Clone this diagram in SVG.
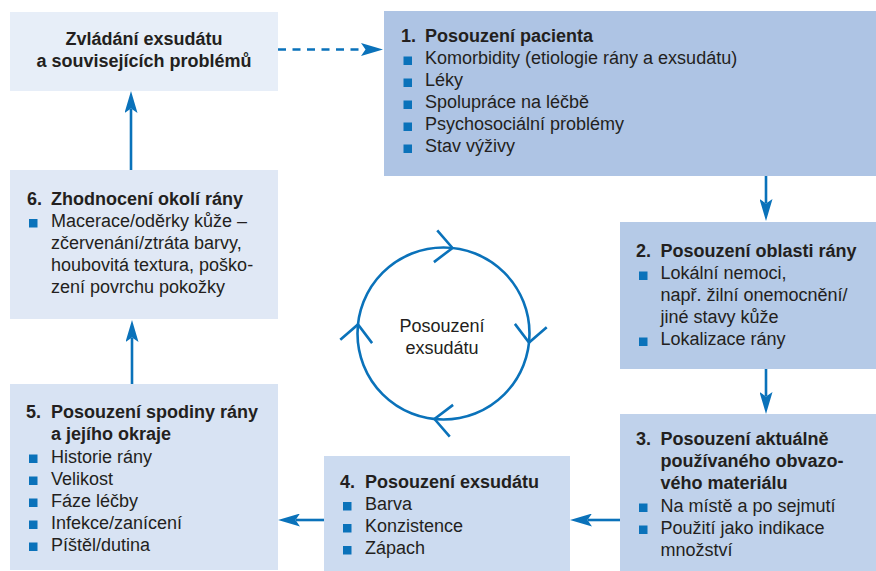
<svg xmlns="http://www.w3.org/2000/svg" width="876" height="571" viewBox="0 0 876 571">
<style>
  text { font-family: "Liberation Sans", Arial, Helvetica, sans-serif; font-size: 18px; fill: #231f20; }
  .b { font-weight: bold; }
  .c { text-anchor: middle; }
  .blt { fill: #0a72ba; }
  .conn { stroke: #0a72ba; stroke-width: 2.6; fill: none; }
  .dash { stroke-dasharray: 8 6.5; }
  .cyc { stroke: #0a72ba; stroke-width: 2.6; fill: none; stroke-linejoin: miter; }
</style>
<defs>
  <marker id="ah" markerUnits="userSpaceOnUse" viewBox="0 0 22 13" refX="4" refY="6.5" markerWidth="22" markerHeight="13" orient="auto">
    <path d="M0,0 L22,6.5 L0,13 L4.5,6.5 Z" fill="#0a72ba" stroke="none"/>
  </marker>
  <rect id="sq" width="8.5" height="8.5"/>
</defs>
<rect width="876" height="571" fill="#ffffff"/>

<g id="connectors">
  <line class="conn dash" x1="278" y1="49.5" x2="365" y2="49.5" marker-end="url(#ah)"/>
  <line class="conn" x1="766" y1="176" x2="766" y2="203" marker-end="url(#ah)"/>
  <line class="conn" x1="766" y1="369" x2="766" y2="396" marker-end="url(#ah)"/>
  <line class="conn" x1="620" y1="520" x2="588" y2="520" marker-end="url(#ah)"/>
  <line class="conn" x1="324" y1="520" x2="296" y2="520" marker-end="url(#ah)"/>
  <line class="conn" x1="132" y1="384" x2="132" y2="338" marker-end="url(#ah)"/>
  <line class="conn" x1="131" y1="170" x2="131" y2="109" marker-end="url(#ah)"/>
</g>

<g id="node-manage">
  <rect x="10" y="12" width="268" height="79" fill="#e7eef8"/>
  <text class="b c" x="144" y="45">Zvládání exsudátu</text>
  <text class="b c" x="144" y="67">a souvisejících problémů</text>
</g>

<g id="node-1">
  <rect x="384" y="11" width="492" height="165" fill="#aec4e4"/>
  <text class="b" x="401" y="42">1.<tspan x="425">Posouzení pacienta</tspan></text>
  <use href="#sq" class="blt" x="403.5" y="56.5"/>
  <use href="#sq" class="blt" x="403.5" y="78.5"/>
  <use href="#sq" class="blt" x="403.5" y="100.5"/>
  <use href="#sq" class="blt" x="403.5" y="122.5"/>
  <use href="#sq" class="blt" x="403.5" y="144.5"/>
  <text x="425" y="64">Komorbidity (etiologie rány a exsudátu)</text>
  <text x="425" y="86">Léky</text>
  <text x="425" y="108">Spolupráce na léčbě</text>
  <text x="425" y="130">Psychosociální problémy</text>
  <text x="425" y="152">Stav výživy</text>
</g>

<g id="node-2">
  <rect x="620" y="222" width="256" height="147" fill="#b5cae7"/>
  <text class="b" x="636" y="257">2.<tspan x="660.5">Posouzení oblasti rány</tspan></text>
  <use href="#sq" class="blt" x="639" y="271.5"/>
  <use href="#sq" class="blt" x="639" y="337.5"/>
  <text x="660.5" y="279">Lokální nemoci,</text>
  <text x="660.5" y="301">např. žilní onemocnění/</text>
  <text x="660.5" y="323">jiné stavy kůže</text>
  <text x="660.5" y="345">Lokalizace rány</text>
</g>

<g id="node-3">
  <rect x="620" y="414" width="256" height="157" fill="#c0d2eb"/>
  <text class="b" x="636" y="445">3.<tspan x="660.5">Posouzení aktuálně</tspan></text>
  <text class="b" x="660.5" y="467">používaného obvazo-</text>
  <text class="b" x="660.5" y="489">vého materiálu</text>
  <use href="#sq" class="blt" x="639" y="503.5"/>
  <use href="#sq" class="blt" x="639" y="525.5"/>
  <text x="660.5" y="511.5">Na místě a po sejmutí</text>
  <text x="660.5" y="533.5">Použití jako indikace</text>
  <text x="660.5" y="555.5">množství</text>
</g>

<g id="node-4">
  <rect x="324" y="456" width="246" height="115" fill="#ccdbf0"/>
  <text class="b" x="340" y="488">4.<tspan x="365">Posouzení exsudátu</tspan></text>
  <use href="#sq" class="blt" x="343" y="502"/>
  <use href="#sq" class="blt" x="343" y="524"/>
  <use href="#sq" class="blt" x="343" y="546"/>
  <text x="365" y="510">Barva</text>
  <text x="365" y="532">Konzistence</text>
  <text x="365" y="554">Zápach</text>
</g>

<g id="node-5">
  <rect x="10" y="384" width="268" height="186" fill="#d8e3f3"/>
  <text class="b" x="26" y="418">5.<tspan x="51">Posouzení spodiny rány</tspan></text>
  <text class="b" x="51" y="440">a jejího okraje</text>
  <use href="#sq" class="blt" x="29" y="454.5"/>
  <use href="#sq" class="blt" x="29" y="476.5"/>
  <use href="#sq" class="blt" x="29" y="498.5"/>
  <use href="#sq" class="blt" x="29" y="520.5"/>
  <use href="#sq" class="blt" x="29" y="542.5"/>
  <text x="51" y="462.5">Historie rány</text>
  <text x="51" y="484.5">Velikost</text>
  <text x="51" y="506.5">Fáze léčby</text>
  <text x="51" y="528.5">Infekce/zanícení</text>
  <text x="51" y="550.5">Píštěl/dutina</text>
</g>

<g id="node-6">
  <rect x="10" y="170" width="268" height="149" fill="#e0e8f5"/>
  <text class="b" x="27" y="205">6.<tspan x="51">Zhodnocení okolí rány</tspan></text>
  <use href="#sq" class="blt" x="29" y="219"/>
  <text x="51" y="227">Macerace/oděrky kůže –</text>
  <text x="51" y="249">zčervenání/ztráta barvy,</text>
  <text x="51" y="271">houbovitá textura, poško-</text>
  <text x="51" y="293">zení povrchu pokožky</text>
</g>

<g id="node-cycle">
  <circle class="cyc" cx="443.5" cy="333.5" r="86"/>
  <g transform="translate(443.5,333.5)">
    <path class="cyc" d="M-17,-102 L0,-86 L-17,-70" transform="rotate(6)"/>
    <path class="cyc" d="M-17,-102 L0,-86 L-17,-70" transform="rotate(96)"/>
    <path class="cyc" d="M-17,-102 L0,-86 L-17,-70" transform="rotate(186)"/>
    <path class="cyc" d="M-17,-102 L0,-86 L-17,-70" transform="rotate(276)"/>
  </g>
  <text class="c" x="442" y="332">Posouzení</text>
  <text class="c" x="442" y="354">exsudátu</text>
</g>
</svg>
